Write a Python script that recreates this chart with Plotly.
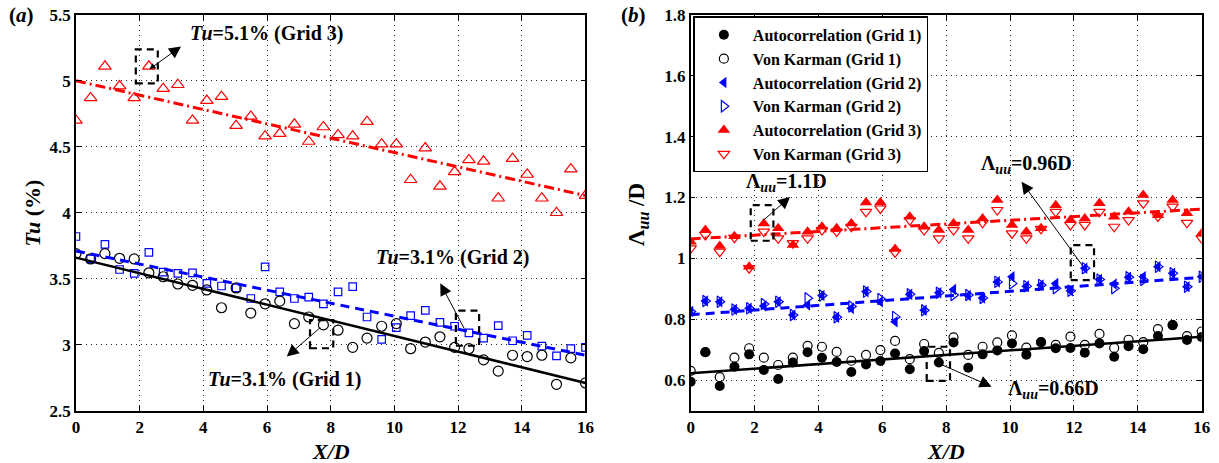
import plotly.graph_objects as go

# Streamwise stations X/D (36 measurement positions)
x_d = [0.00, 0.46, 0.91, 1.37, 1.83, 2.29, 2.74, 3.20, 3.66, 4.11, 4.57, 5.03,
       5.49, 5.94, 6.40, 6.86, 7.31, 7.77, 8.23, 8.69, 9.14, 9.60, 10.06, 10.51,
       10.97, 11.43, 11.89, 12.34, 12.80, 13.26, 13.71, 14.17, 14.63, 15.09, 15.54, 16.00]

# (a) turbulence intensity Tu (%)
tu_grid1 = [3.69, 3.65, 3.69, 3.655, 3.65, 3.545, 3.515, 3.46, 3.45, 3.415, 3.28, 3.43,
            3.24, 3.31, 3.33, 3.16, 3.21, 3.15, 3.11, 2.98, 3.05, 3.14, 3.16, 2.97,
            3.02, 3.06, 2.98, 2.97, 2.885, 2.80, 2.92, 2.91, 2.92, 2.70, 2.90, 2.71]
tu_grid2 = [3.82, 3.65, 3.76, 3.57, 3.54, 3.70, 3.55, 3.54, 3.545, 3.465, 3.445, 3.43,
            3.35, 3.59, 3.40, 3.35, 3.36, 3.31, 3.40, 3.44, 3.21, 3.04, 3.13, 3.22,
            3.26, 3.17, 3.14, 3.09, 3.05, 3.145, 3.03, 3.07, 2.99, 2.915, 2.97, 2.98]
tu_grid3 = [4.70, 4.87, 5.11, 4.96, 4.87, 5.11, 4.94, 4.97, 4.70, 4.85, 4.88, 4.66,
            4.73, 4.58, 4.60, 4.67, 4.54, 4.65, 4.59, 4.58, 4.69, 4.52, 4.52, 4.25,
            4.49, 4.20, 4.31, 4.40, 4.39, 4.11, 4.41, 4.29, 4.11, 4.00, 4.33, 4.13]

# linear fits (values at X/D = 0 and 16)
fit_x = [0, 16]
tu_fit_grid1 = [3.66, 2.71]
tu_fit_grid2 = [3.71, 2.92]
tu_fit_grid3 = [5.00, 4.13]

# (b) integral length scale Lambda_uu / D
ac_grid1 = [0.595, 0.692, 0.581, 0.644, 0.685, 0.634, 0.604, 0.658, 0.692, 0.674, 0.660, 0.627,
            0.652, 0.663, 0.688, 0.636, 0.696, 0.658, 0.724, 0.641, 0.685, 0.698, 0.721, 0.684,
            0.725, 0.705, 0.706, 0.690, 0.721, 0.677, 0.712, 0.702, 0.745, 0.781, 0.732, 0.742]
vk_grid1 = [0.631, 0.692, 0.610, 0.674, 0.705, 0.674, 0.650, 0.674, 0.713, 0.710, 0.693, 0.664,
            0.683, 0.699, 0.729, 0.669, 0.719, 0.690, 0.741, 0.683, 0.710, 0.724, 0.747, 0.707,
            0.725, 0.716, 0.743, 0.716, 0.752, 0.706, 0.733, 0.725, 0.768, 0.781, 0.745, 0.760]
ac_grid2 = [0.826, 0.860, 0.858, 0.832, 0.836, 0.844, 0.858, 0.814, 0.847, 0.878, 0.807, 0.836,
            0.891, 0.858, 0.792, 0.882, 0.830, 0.887, 0.898, 0.878, 0.870, 0.923, 0.940, 0.909,
            0.913, 0.918, 0.894, 0.968, 0.931, 0.916, 0.938, 0.940, 0.973, 0.951, 0.907, 0.940]
vk_grid2 = [0.826, 0.860, 0.858, 0.832, 0.836, 0.850, 0.858, 0.814, 0.869, 0.878, 0.807, 0.842,
            0.891, 0.867, 0.808, 0.882, 0.830, 0.887, 0.880, 0.880, 0.870, 0.923, 0.918, 0.909,
            0.913, 0.902, 0.894, 0.968, 0.931, 0.902, 0.938, 0.929, 0.973, 0.951, 0.907, 0.940]
ac_grid3 = [1.055, 1.093, 1.041, 1.073, 0.973, 1.115, 1.099, 1.044, 1.088, 1.104, 1.099, 1.115,
            1.184, 1.184, 1.031, 1.137, 1.104, 1.093, 1.115, 1.093, 1.131, 1.192, 1.110, 1.088,
            1.099, 1.175, 1.126, 1.131, 1.181, 1.137, 1.153, 1.208, 1.142, 1.192, 1.148, 1.082]
vk_grid3 = [1.033, 1.077, 1.022, 1.068, 0.968, 1.088, 1.066, 1.050, 1.066, 1.093, 1.088, 1.104,
            1.153, 1.164, 1.020, 1.126, 1.093, 1.066, 1.093, 1.066, 1.117, 1.159, 1.082, 1.066,
            1.097, 1.153, 1.110, 1.110, 1.153, 1.104, 1.126, 1.181, 1.138, 1.170, 1.117, 1.066]
lam_fit_grid1 = [0.623, 0.743]
lam_fit_grid2 = [0.815, 0.938]
lam_fit_grid3 = [1.064, 1.162]

legend_names = ["Autocorrelation (Grid 1)", "Von Karman (Grid 1)",
                "Autocorrelation (Grid 2)", "Von Karman (Grid 2)",
                "Autocorrelation (Grid 3)", "Von Karman (Grid 3)"]

FONT = "Liberation Serif"
BLACK, BLUE, RED = "#000000", "#0000ff", "#ff0000"

fig = go.Figure()

# ---- panel (a) ----
fig.add_trace(go.Scatter(x=x_d, y=tu_grid3, mode="markers", showlegend=False,
                         marker=dict(symbol="triangle-up-open", size=11, color=RED, line=dict(width=1.2)),
                         xaxis="x", yaxis="y"))
fig.add_trace(go.Scatter(x=x_d, y=tu_grid2, mode="markers", showlegend=False,
                         marker=dict(symbol="square-open", size=7.5, color=BLUE, line=dict(width=1.2)),
                         xaxis="x", yaxis="y"))
fig.add_trace(go.Scatter(x=x_d, y=tu_grid1, mode="markers", showlegend=False,
                         marker=dict(symbol="circle-open", size=10, color=BLACK, line=dict(width=1.2)),
                         xaxis="x", yaxis="y"))
fig.add_trace(go.Scatter(x=fit_x, y=tu_fit_grid3, mode="lines", showlegend=False,
                         line=dict(color=RED, width=3, dash="10px,4px,2px,4px"), xaxis="x", yaxis="y"))
fig.add_trace(go.Scatter(x=fit_x, y=tu_fit_grid2, mode="lines", showlegend=False,
                         line=dict(color=BLUE, width=3, dash="9px,6px"), xaxis="x", yaxis="y"))
fig.add_trace(go.Scatter(x=fit_x, y=tu_fit_grid1, mode="lines", showlegend=False,
                         line=dict(color=BLACK, width=2.5), xaxis="x", yaxis="y"))

# ---- panel (b) ----
fig.add_trace(go.Scatter(x=x_d, y=ac_grid1, mode="markers", name=legend_names[0],
                         marker=dict(symbol="circle", size=10, color=BLACK), xaxis="x2", yaxis="y2"))
fig.add_trace(go.Scatter(x=x_d, y=vk_grid1, mode="markers", name=legend_names[1],
                         marker=dict(symbol="circle-open", size=9, color=BLACK, line=dict(width=1.2)),
                         xaxis="x2", yaxis="y2"))
fig.add_trace(go.Scatter(x=x_d, y=ac_grid2, mode="markers", name=legend_names[2],
                         marker=dict(symbol="triangle-left", size=10, color=BLUE), xaxis="x2", yaxis="y2"))
fig.add_trace(go.Scatter(x=x_d, y=vk_grid2, mode="markers", name=legend_names[3],
                         marker=dict(symbol="triangle-right-open", size=10, color=BLUE, line=dict(width=1.2)),
                         xaxis="x2", yaxis="y2"))
fig.add_trace(go.Scatter(x=x_d, y=ac_grid3, mode="markers", name=legend_names[4],
                         marker=dict(symbol="triangle-up", size=11, color=RED), xaxis="x2", yaxis="y2"))
fig.add_trace(go.Scatter(x=x_d, y=vk_grid3, mode="markers", name=legend_names[5],
                         marker=dict(symbol="triangle-down-open", size=10, color=RED, line=dict(width=1.2)),
                         xaxis="x2", yaxis="y2"))
fig.add_trace(go.Scatter(x=fit_x, y=lam_fit_grid3, mode="lines", showlegend=False,
                         line=dict(color=RED, width=3, dash="10px,4px,2px,4px"), xaxis="x2", yaxis="y2"))
fig.add_trace(go.Scatter(x=fit_x, y=lam_fit_grid2, mode="lines", showlegend=False,
                         line=dict(color=BLUE, width=3, dash="9px,6px"), xaxis="x2", yaxis="y2"))
fig.add_trace(go.Scatter(x=fit_x, y=lam_fit_grid1, mode="lines", showlegend=False,
                         line=dict(color=BLACK, width=2.5), xaxis="x2", yaxis="y2"))

tick_font = dict(family=FONT, size=17, color=BLACK, weight="bold")
axis_common = dict(showline=True, linecolor=BLACK, linewidth=1.5, mirror="allticks",
                   ticks="inside", ticklen=5, tickwidth=1, tickcolor=BLACK,
                   showgrid=True, gridcolor="#222222", gridwidth=1, griddash="1px,4px",
                   zeroline=False, tickfont=tick_font, automargin=False)

y_dom = [0.113, 0.968]
fig.update_layout(
    width=1219, height=463,
    margin=dict(l=0, r=0, t=0, b=0),
    paper_bgcolor="white", plot_bgcolor="white",
    xaxis=dict(domain=[0.0623, 0.4803], range=[0, 16], tickvals=list(range(0, 17, 2)),
               anchor="y", **axis_common),
    yaxis=dict(domain=y_dom, range=[2.5, 5.5], tickvals=[2.5, 3, 3.5, 4, 4.5, 5, 5.5],
               ticktext=["2.5", "3", "3.5", "4", "4.5", "5", "5.5"], anchor="x", **axis_common),
    xaxis2=dict(domain=[0.5666, 0.9858], range=[0, 16], tickvals=list(range(0, 17, 2)),
                anchor="y2", **axis_common),
    yaxis2=dict(domain=y_dom, range=[0.5, 1.8], tickvals=[0.6, 0.8, 1.0, 1.2, 1.4, 1.6, 1.8],
                ticktext=["0.6", "0.8", "1", "1.2", "1.4", "1.6", "1.8"], anchor="x2", **axis_common),
    legend=dict(x=0.5688, y=0.9645, xanchor="left", yanchor="top",
                bgcolor="white", bordercolor=BLACK, borderwidth=1.5,
                font=dict(family=FONT, size=16, color=BLACK, weight="bold"),
                itemwidth=48, tracegroupgap=0),
    font=dict(family=FONT, color=BLACK),
)

label_font = dict(family=FONT, size=20, color=BLACK, weight="bold")

# axis titles and panel tags
titles = [
    dict(text="<i>Tu</i> (%)", x=0.027, y=0.5406, textangle=-90, size=22),
    dict(text="<i>X/D</i>", x=0.2713, y=0.024, textangle=0, size=22),
    dict(text="<i>X/D</i>", x=0.7763, y=0.024, textangle=0, size=22),
    dict(text="Λ<sub><i>uu</i></sub> /D", x=0.5234, y=0.5356, textangle=-90, size=23),
    dict(text="(<i>a</i>)", x=0.018, y=0.9676, textangle=0, size=21),
    dict(text="(<i>b</i>)", x=0.520, y=0.9676, textangle=0, size=21),
]
for t in titles:
    fig.add_annotation(text=t["text"], xref="paper", yref="paper", x=t["x"], y=t["y"],
                       textangle=t["textangle"], showarrow=False, xanchor="center", yanchor="middle",
                       font=dict(family=FONT, size=t["size"], color=BLACK, weight="bold"))

# callout labels
callouts = [
    ("x", "y", "<i>Tu</i>=5.1% (Grid 3)", 5.98, 5.36),
    ("x", "y", "<i>Tu</i>=3.1% (Grid 2)", 11.83, 3.66),
    ("x", "y", "<i>Tu</i>=3.1% (Grid 1)", 6.55, 2.733),
    ("x2", "y2", "Λ<sub><i>uu</i></sub>=1.1D", 3.0, 1.248),
    ("x2", "y2", "Λ<sub><i>uu</i></sub>=0.96D", 10.51, 1.307),
    ("x2", "y2", "Λ<sub><i>uu</i></sub>=0.66D", 11.37, 0.568),
]
for xr, yr, txt, tx, ty in callouts:
    fig.add_annotation(text=txt, xref=xr, yref=yr, x=tx, y=ty, showarrow=False,
                       xanchor="center", yanchor="middle", font=label_font)

# arrows: (axis refs, head x, head y, tail x, tail y, both ends)
arrows = [
    ("x", "y", 3.30, 5.26, 2.26, 5.08, True),
    ("x", "y", 11.44, 3.465, 12.22, 3.11, False),
    ("x", "y", 6.62, 2.91, 7.72, 3.14, False),
    ("x2", "y2", 3.11, 1.202, 2.22, 1.120, False),
    ("x2", "y2", 10.36, 1.252, 12.29, 0.973, False),
    ("x2", "y2", 9.42, 0.579, 7.75, 0.656, False),
]
for xr, yr, hx, hy, tx, ty, both in arrows:
    fig.add_annotation(text="", xref=xr, yref=yr, x=hx, y=hy, axref=xr, ayref=yr, ax=tx, ay=ty,
                       showarrow=True, arrowhead=2, arrowsize=2.4, arrowwidth=1, arrowcolor=BLACK,
                       arrowside="end+start" if both else "end", startarrowhead=2, startarrowsize=1.2)

# dashed boxes around highlighted stations
boxes = [
    ("x", "y", 1.88, 4.98, 2.57, 5.238),
    ("x", "y", 11.93, 2.992, 12.66, 3.258),
    ("x", "y", 7.35, 2.973, 8.08, 3.187),
    ("x2", "y2", 1.88, 1.058, 2.59, 1.175),
    ("x2", "y2", 11.90, 0.929, 12.63, 1.044),
    ("x2", "y2", 7.39, 0.598, 8.12, 0.710),
]
for xr, yr, x0, y0, x1, y1 in boxes:
    fig.add_shape(type="rect", xref=xr, yref=yr, x0=x0, y0=y0, x1=x1, y1=y1,
                  line=dict(color=BLACK, width=2.2, dash="7px,5px"), fillcolor="rgba(0,0,0,0)")

fig.write_html("out.html")
